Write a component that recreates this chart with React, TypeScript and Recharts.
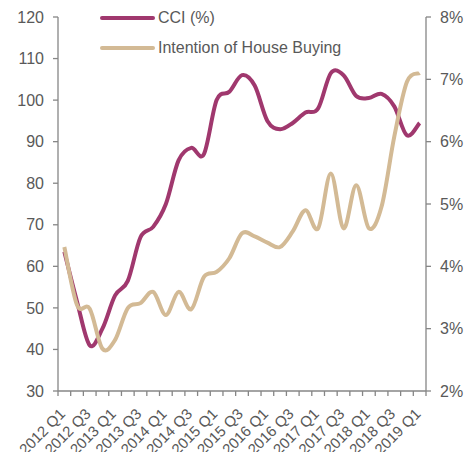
import { LineChart, Line, XAxis, YAxis, Legend } from 'recharts'

const quarters = [
  '2012 Q1', '2012 Q2', '2012 Q3', '2012 Q4',
  '2013 Q1', '2013 Q2', '2013 Q3', '2013 Q4',
  '2014 Q1', '2014 Q2', '2014 Q3', '2014 Q4',
  '2015 Q1', '2015 Q2', '2015 Q3', '2015 Q4',
  '2016 Q1', '2016 Q2', '2016 Q3', '2016 Q4',
  '2017 Q1', '2017 Q2', '2017 Q3', '2017 Q4',
  '2018 Q1', '2018 Q2', '2018 Q3', '2018 Q4',
  '2019 Q1',
]

// consumer confidence index, left axis
const cci = [
  63.5, 51.5, 41, 45, 53, 56.5, 67, 69.5, 75, 85.5, 88.5, 87, 100, 102, 106,
  103.5, 95, 93, 94.5, 97, 98, 106.5, 106, 101, 100.5, 101.5, 98.5, 91.5, 94.5,
]

// intention of house buying (%), right axis
const houseBuying = [
  4.31, 3.38, 3.32, 2.68, 2.82, 3.33, 3.41, 3.59, 3.22, 3.59, 3.31, 3.83, 3.91, 4.13, 4.53,
  4.48, 4.38, 4.31, 4.56, 4.9, 4.61, 5.49, 4.61, 5.3, 4.61, 4.96, 6.08, 6.96, 7.1,
]

const leftTicks = [30, 40, 50, 60, 70, 80, 90, 100, 110, 120]
const rightTicks = [2, 3, 4, 5, 6, 7, 8]

const CCI_COLOR = '#A0386E'
const HOUSE_COLOR = '#D3BA95'
const AXIS = '#868686'
const TEXT = '#595959'
const FONT = '"Liberation Sans", Arial, sans-serif'

const data = quarters.map((q, i) => ({
  quarter: q,
  pos: i + 0.5,
  cci: cci[i],
  house: houseBuying[i],
}))

// tick marks sit on the category edges, labels on every other category centre
const edgeTicks = quarters.map((_, i) => i).concat([quarters.length])
const labelTicks = quarters.map((_, i) => i + 0.5).filter((_, i) => i % 2 === 0)
const xTicks = [...edgeTicks, ...labelTicks]

// spreadsheet-style smoothing (catmull-rom through every point)
const smoothCurve = (context: any) => {
  let pts: number[][] = []
  return {
    areaStart() {},
    areaEnd() {},
    lineStart() {
      pts = []
    },
    point(x: number, y: number) {
      pts.push([+x, +y])
    },
    lineEnd() {
      if (!pts.length) return
      context.moveTo(pts[0][0], pts[0][1])
      for (let i = 0; i < pts.length - 1; i++) {
        const p0 = pts[i - 1] || pts[i]
        const p1 = pts[i]
        const p2 = pts[i + 1]
        const p3 = pts[i + 2] || p2
        context.bezierCurveTo(
          p1[0] + (p2[0] - p0[0]) / 6,
          p1[1] + (p2[1] - p0[1]) / 6,
          p2[0] - (p3[0] - p1[0]) / 6,
          p2[1] - (p3[1] - p1[1]) / 6,
          p2[0],
          p2[1],
        )
      }
    },
  }
}

function QuarterTick({ x, y, payload }: any) {
  const v = payload.value
  if (Number.isInteger(v)) {
    return <line x1={x} y1={y} x2={x} y2={y + 5} stroke={AXIS} strokeWidth={1.3} />
  }
  const tx = x - 2
  const ty = y + 20
  return (
    <text
      x={tx}
      y={ty}
      transform={`rotate(-45 ${tx} ${ty})`}
      textAnchor="end"
      dominantBaseline="central"
      fill={TEXT}
      fontSize={15}
      fontFamily={FONT}
    >
      {quarters[Math.floor(v)]}
    </text>
  )
}

function LegendContent({ payload }: any) {
  return (
    <div style={{ fontFamily: FONT, fontSize: 16, color: TEXT }}>
      {(payload || []).map((item: any) => (
        <div key={item.value} style={{ display: 'flex', alignItems: 'center', height: 30 }}>
          <div style={{ width: 55, height: 4, borderRadius: 2, background: item.color, marginRight: 3 }} />
          <span>{item.value}</span>
        </div>
      ))}
    </div>
  )
}

export default function App() {
  return (
    <div style={{ position: 'absolute', left: 0, top: 0, width: 475, height: 452, background: '#fff' }}>
      <LineChart width={475} height={452} data={data} margin={{ top: 17, right: 0, left: 0, bottom: 0 }}>
        <XAxis
          dataKey="pos"
          type="number"
          domain={[0, quarters.length]}
          ticks={xTicks}
          interval={0}
          height={61}
          tickSize={0}
          tickMargin={0}
          tickLine={false}
          axisLine={{ stroke: AXIS, strokeWidth: 1.3 }}
          tick={<QuarterTick />}
        />
        <YAxis
          yAxisId="left"
          width={58}
          domain={[30, 120]}
          ticks={leftTicks}
          interval={0}
          tickSize={5}
          tickMargin={9}
          axisLine={{ stroke: AXIS, strokeWidth: 1.3 }}
          tickLine={{ stroke: AXIS, strokeWidth: 1.3 }}
          tick={{ fill: TEXT, fontSize: 16, fontFamily: FONT }}
        />
        <YAxis
          yAxisId="right"
          orientation="right"
          width={49}
          domain={[2, 8]}
          ticks={rightTicks}
          interval={0}
          tickSize={5}
          tickMargin={9}
          tickFormatter={(v) => `${v}%`}
          axisLine={{ stroke: AXIS, strokeWidth: 1.3 }}
          tickLine={{ stroke: AXIS, strokeWidth: 1.3 }}
          tick={{ fill: TEXT, fontSize: 16, fontFamily: FONT }}
        />
        <Legend
          layout="vertical"
          align="center"
          verticalAlign="middle"
          wrapperStyle={{ top: 3, left: 100, width: 'auto' }}
          content={<LegendContent />}
        />
        <Line
          yAxisId="left"
          name="CCI (%)"
          dataKey="cci"
          type={smoothCurve as any}
          stroke={CCI_COLOR}
          strokeWidth={4}
          dot={false}
          activeDot={false}
          isAnimationActive={false}
        />
        <Line
          yAxisId="right"
          name="Intention of House Buying"
          dataKey="house"
          type={smoothCurve as any}
          stroke={HOUSE_COLOR}
          strokeWidth={4}
          dot={false}
          activeDot={false}
          isAnimationActive={false}
        />
      </LineChart>
    </div>
  )
}
